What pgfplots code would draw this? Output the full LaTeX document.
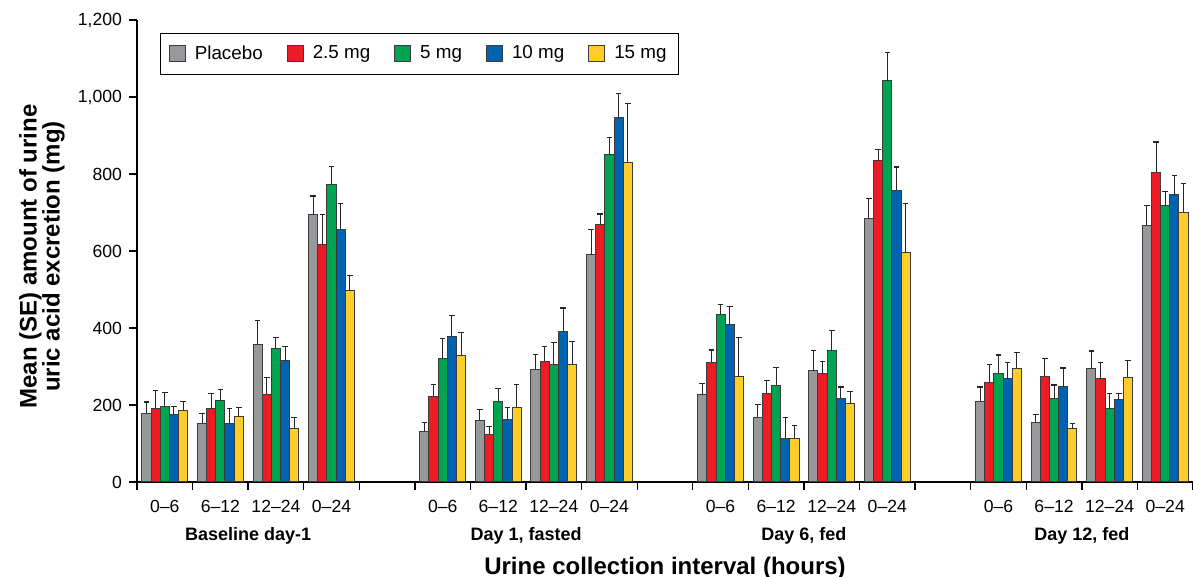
\documentclass[border=0pt]{standalone}
\usepackage{fontspec}
\setmainfont{Liberation Sans}
\setsansfont{Liberation Sans}
\usepackage{pgfplots}
\usepackage{pgfplotstable}
\pgfplotsset{compat=1.18}

\definecolor{cpla}{RGB}{151,152,155}
\definecolor{cred}{RGB}{237,28,36}
\definecolor{cgreen}{RGB}{0,163,80}
\definecolor{cblue}{RGB}{0,99,176}
\definecolor{cyel}{RGB}{255,204,41}
\definecolor{edge}{RGB}{60,60,60}

% slots: 0-3 baseline, 5-8 day 1, 10-13 day 6, 15-18 day 12
\pgfplotstableread{
x  pla epla r25 er25 g5  eg5 b10 eb10 y15 ey15
0  178 30   190 47   197 35  176 20   186 24
1  152 25   190 39   211 30  151 39   171 22
2  358 61   228 43   348 28  315 36   138 29
3  694 49   616 78   774 45  656 67   497 39
5  132 23   223 30   321 52  377 56   329 60
6  161 27   124 20   210 33  163 30   194 59
7  293 39   313 39   306 57  391 61   305 60
8  590 66   670 26   850 44  946 63   830 154
10 227 28   311 32   436 26  408 48   274 101
11 168 34   231 33   251 46  113 54   113 33
12 289 52   281 32   341 53  217 30   203 33
13 685 51   835 29   1042 74 758 60   595 129
15 210 37   259 47   282 48  268 43   295 41
16 155 21   275 46   217 35  248 48   138 14
17 294 46   268 42   190 39  213 16   272 43
18 667 52   805 78   717 38  746 51   700 76
}\uric

\begin{document}
\begin{tikzpicture}
\begin{axis}[
  at={(0,0)}, anchor=south west,
  scale only axis, width=528pt, height=231pt,
  xmin=-0.5, xmax=18.5, ymin=0, ymax=1200,
  axis lines=left, axis line style={-, line width=0.7pt},
  tick align=outside, major tick length=4pt,
  tick style={black, line width=0.7pt},
  ytick={0,200,...,1200},
  yticklabel style={/pgf/number format/.cd, 1000 sep={,}, assume math mode=true},
  xtick={-0.5,0.5,...,18.5}, xticklabels={},
  extra x ticks={0,1,2,3,5,6,7,8,10,11,12,13,15,16,17,18},
  extra x tick labels={0–6,6–12,12–24,0–24,0–6,6–12,12–24,0–24,0–6,6–12,12–24,0–24,0–6,6–12,12–24,0–24},
  extra x tick style={major tick length=0pt, tick label style={anchor=center, yshift=-12pt}},
  tick label style={font=\fontsize{8.8}{10}\selectfont},
  ybar, bar width=0.165,
  every axis plot/.append style={draw=edge, line width=0.5pt},
  error bars/y dir=plus, error bars/y explicit,
  error bars/error bar style={draw=black!85, line width=0.5pt},
  error bars/error mark options={draw=black!85, line width=0.6pt, rotate=90, mark size=1.4pt},
  legend columns=5,
  legend style={at={(0.022,0.972)}, anchor=north west, draw=black, line width=0.6pt,
    font=\fontsize{9.4}{10}\selectfont, inner xsep=4pt, inner ysep=4pt,
    /tikz/every odd column/.append style={column sep=2.5pt},
    /tikz/every even column/.append style={column sep=10pt}},
  legend image code/.code={\draw[#1, line width=0.5pt] (0pt,-4pt) rectangle (8pt,4pt);},
  clip=false,
]
\addplot[fill=cpla, bar shift=-0.33] table[x=x, y=pla, y error=epla] \uric;
\addplot[fill=cred, bar shift=-0.165] table[x=x, y=r25, y error=er25] \uric;
\addplot[fill=cgreen, bar shift=0] table[x=x, y=g5, y error=eg5] \uric;
\addplot[fill=cblue, bar shift=0.165] table[x=x, y=b10, y error=eb10] \uric;
\addplot[fill=cyel, bar shift=0.33] table[x=x, y=y15, y error=ey15] \uric;
\legend{Placebo, 2.5 mg, 5 mg, 10 mg, 15 mg}
\path[font=\bfseries\fontsize{9}{10}\selectfont]
  (axis cs:1.5,0)  node[yshift=-27pt] {Baseline day-1}
  (axis cs:6.5,0)  node[yshift=-27pt] {Day 1, fasted}
  (axis cs:11.5,0) node[yshift=-27pt] {Day 6, fed}
  (axis cs:16.5,0) node[yshift=-27pt] {Day 12, fed};
\node[font=\bfseries\fontsize{12}{14}\selectfont] at (rel axis cs:0.5,0) [yshift=-43pt] {Urine collection interval (hours)};
\node[font=\bfseries\fontsize{12}{11.5}\selectfont, align=center]
  at (rel axis cs:0,0.488) [xshift=-47.5pt, rotate=90] {Mean (SE) amount of urine\\uric acid excretion (mg)};
\end{axis}
\pgfresetboundingbox
\path (-68.5pt,-47.5pt) rectangle (528pt,241pt);
\end{tikzpicture}
\end{document}
